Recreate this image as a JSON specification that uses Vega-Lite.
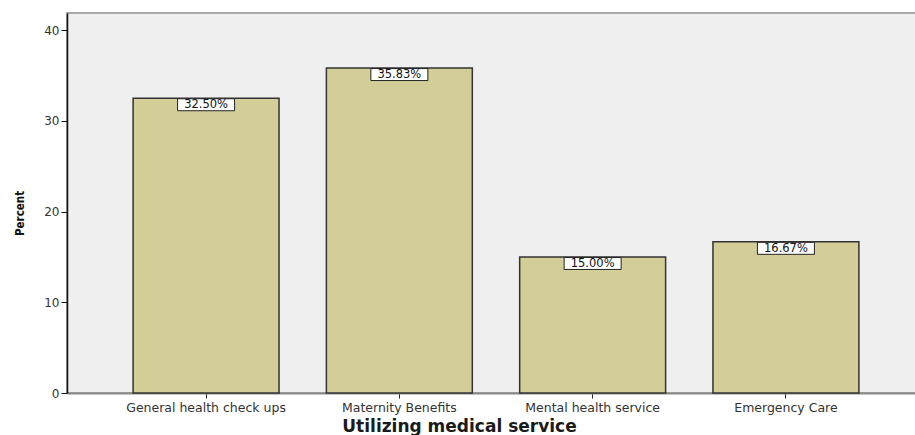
{
  "$schema": "https://vega.github.io/schema/vega-lite/v6.json",
  "autosize": "none",
  "width": 858,
  "height": 380,
  "padding": {"left": 67, "top": 13, "right": 0, "bottom": 42},
  "background": "white",
  "config": {
    "view": {"fill": "#efefef", "stroke": "#a8a8a8", "strokeWidth": 2},
    "axis": {"grid": false}
  },
  "data": {
    "values": [
      {"service": "General health check ups", "percent": 32.50, "label": "32.50%"},
      {"service": "Maternity Benefits", "percent": 35.83, "label": "35.83%"},
      {"service": "Mental health service", "percent": 15.00, "label": "15.00%"},
      {"service": "Emergency Care", "percent": 16.67, "label": "16.67%"}
    ]
  },
  "encoding": {
    "x": {
      "field": "service",
      "type": "nominal",
      "sort": null,
      "scale": {"paddingInner": 0.245, "paddingOuter": 0.342},
      "axis": {
        "title": "Utilizing medical service",
        "titleFont": "DejaVu Sans",
        "titleFontWeight": "bold",
        "titleFontSize": 17,
        "titleColor": "#1a1a1a",
        "titleX": 392,
        "titleAnchor": null,
        "titlePadding": 5,
        "labelAngle": 0,
        "labelFont": "DejaVu Sans",
        "labelFontSize": 12.5,
        "labelColor": "#333",
        "labelPadding": 3,
        "domainColor": "#8a8a8a",
        "domainWidth": 2,
        "tickColor": "#222",
        "tickSize": 5,
        "tickWidth": 1
      }
    },
    "y": {
      "field": "percent",
      "type": "quantitative",
      "scale": {"domain": [0, 41.9], "nice": false},
      "axis": {
        "title": "Percent",
        "titleFont": "DejaVu Sans Condensed",
        "titleFontWeight": "bold",
        "titleFontSize": 11.5,
        "titleColor": "#111",
        "titlePadding": 18,
        "titleY": 200,
        "values": [0, 10, 20, 30, 40],
        "labelFont": "DejaVu Sans",
        "labelFontSize": 12,
        "labelColor": "#333",
        "labelPadding": 2,
        "domainColor": "#111",
        "domainWidth": 1.5,
        "tickColor": "#111",
        "tickSize": 6,
        "tickWidth": 1
      }
    }
  },
  "layer": [
    {
      "mark": {"type": "bar", "fill": "#d3ce98", "stroke": "#333", "strokeWidth": 1.5}
    },
    {
      "mark": {
        "type": "point",
        "shape": "M-1,-0.2105L1,-0.2105L1,0.2105L-1,0.2105Z",
        "size": 3249,
        "filled": true,
        "fill": "white",
        "fillOpacity": 1,
        "stroke": "#222",
        "strokeWidth": 1,
        "opacity": 1,
        "yOffset": 6.5
      }
    },
    {
      "mark": {
        "type": "text",
        "font": "DejaVu Sans",
        "fontSize": 11.5,
        "color": "#111",
        "baseline": "middle",
        "align": "center",
        "yOffset": 7
      },
      "encoding": {"text": {"field": "label"}}
    }
  ]
}
